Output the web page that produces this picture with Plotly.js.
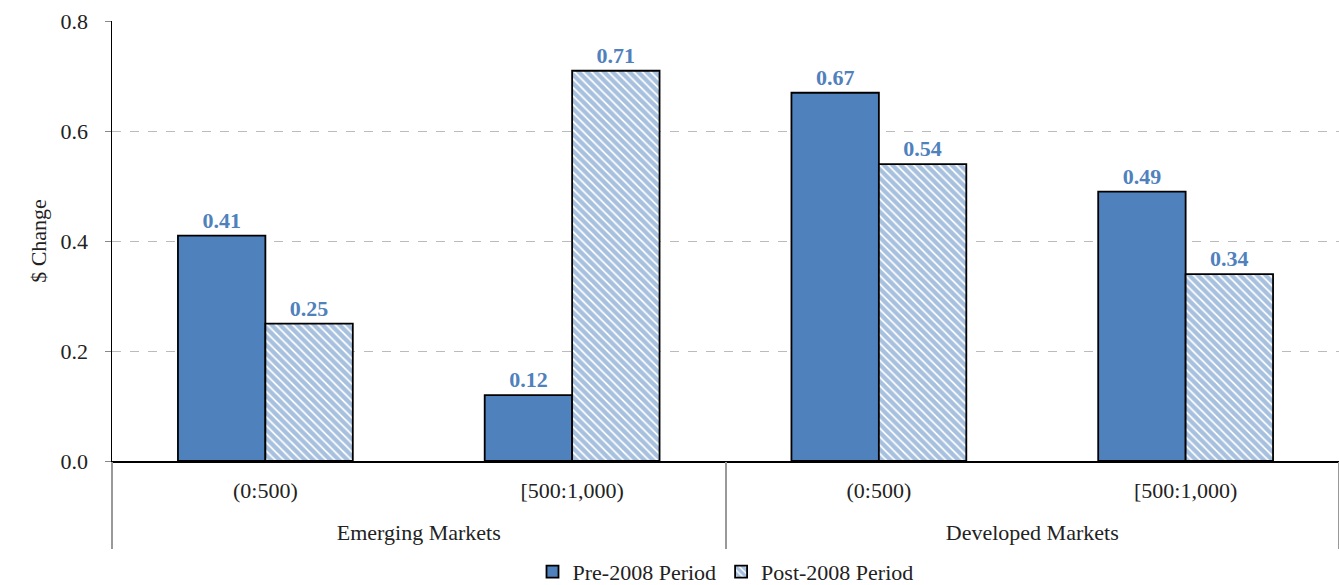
<!DOCTYPE html>
<html>
<head>
<meta charset="utf-8">
<script src="https://cdn.plot.ly/plotly-3.0.1.min.js"></script>
<style>html,body{margin:0;padding:0;background:#fff;}#chart{width:1339px;height:585px;}</style>
</head>
<body>
<div id="chart"></div>
<script>
const groups = ["Emerging Markets", "Emerging Markets", "Developed Markets", "Developed Markets"];
const subcats = ["(0:500)", "[500:1,000)", "(0:500)", "[500:1,000)"];
const pre2008 = [0.41, 0.12, 0.67, 0.49];
const post2008 = [0.25, 0.71, 0.54, 0.34];
const seriesNames = ["Pre-2008 Period", "Post-2008 Period"];

const FONT = "Liberation Serif";
const BLUE = "#4F81BD";
const LABEL = "#4F81BD";
const FS = 22;

// category index positions
const xIdx = subcats.map((_, i) => i);
// group label centres and boundaries derived from the groups array
const groupNames = [], groupMembers = [], groupBounds = [-0.5];
groups.forEach((g, i) => {
  if (i === 0 || groups[i - 1] !== g) { groupNames.push(g); groupMembers.push([i]); }
  else groupMembers[groupMembers.length - 1].push(i);
  if (i === groups.length - 1 || groups[i + 1] !== g) groupBounds.push(i + 0.5);
});
const groupMid = groupMembers.map(a => (a[0] + a[a.length - 1]) / 2);

const traces = [
  {
    type: "bar", name: seriesNames[0],
    x: xIdx, y: pre2008,
    marker: {color: BLUE, line: {color: "#000", width: 1.8}},
    text: pre2008.map(v => v.toFixed(2)), textposition: "outside",
    textfont: {family: FONT, size: FS, color: LABEL, weight: "bold"},
    cliponaxis: false, hoverinfo: "skip"
  },
  {
    type: "bar", name: seriesNames[1],
    x: xIdx, y: post2008,
    marker: {color: "#ffffff", line: {color: "#000", width: 1.8},
      pattern: {shape: "\\", fgcolor: BLUE, bgcolor: "#ffffff", size: 6, solidity: 0.7, fillmode: "overlay"}},
    text: post2008.map(v => v.toFixed(2)), textposition: "outside",
    textfont: {family: FONT, size: FS, color: LABEL, weight: "bold"},
    cliponaxis: false, hoverinfo: "skip"
  },
  {
    // invisible helper so the group-label axis is drawn
    type: "scatter", mode: "markers", xaxis: "x2", yaxis: "y",
    x: groupMid, y: groupMid.map(() => 0),
    marker: {size: 1, opacity: 0}, showlegend: false, hoverinfo: "skip"
  }
];

const xr = [-0.5, subcats.length - 0.5];
const layout = {
  width: 1339, height: 585,
  margin: {l: 112, r: 0, t: 21, b: 124, autoexpand: false},
  paper_bgcolor: "#fff", plot_bgcolor: "#fff",
  font: {family: FONT, size: FS, color: "#222"},
  barmode: "group", bargap: 0.43, bargroupgap: 0,
  showlegend: true,
  legend: {orientation: "h", x: 0.5, xanchor: "center", y: -0.252, yanchor: "middle",
    font: {family: FONT, size: FS, color: "#222"}, itemwidth: 30, traceorder: "normal"},
  xaxis: {
    type: "linear", range: xr,
    tickmode: "array", tickvals: xIdx, ticktext: subcats,
    showline: true, linecolor: "#000", linewidth: 1.5,
    ticks: "", ticklabelstandoff: 9,
    tickfont: {family: FONT, size: FS, color: "#222"},
    showgrid: false, zeroline: false
  },
  xaxis2: {
    type: "linear", range: xr, overlaying: "x", anchor: "y", side: "bottom",
    tickmode: "array", tickvals: groupMid, ticktext: groupNames,
    ticks: "", ticklabelstandoff: 56,
    tickfont: {family: FONT, size: FS, color: "#222"},
    minor: {tickmode: "array", tickvals: groupBounds, ticks: "outside", ticklen: 87, tickcolor: "#999", tickwidth: 2, showgrid: false},
    showline: false, showgrid: false, zeroline: false
  },
  yaxis: {
    range: [0, 0.8005], dtick: 0.2, tickformat: ".1f",
    showline: true, linecolor: "#000", linewidth: 1.5,
    ticks: "outside", ticklen: 6, tickcolor: "#888", ticklabelstandoff: 12,
    showgrid: true, gridcolor: "#bbb", griddash: "dash", gridwidth: 1,
    zeroline: false,
    tickfont: {family: FONT, size: FS, color: "#222"},
    title: {text: "$ Change", font: {family: FONT, size: FS, color: "#222"}, standoff: 8}
  }
};

Plotly.newPlot("chart", traces, layout, {staticPlot: true, displayModeBar: false});
</script>
</body>
</html>
